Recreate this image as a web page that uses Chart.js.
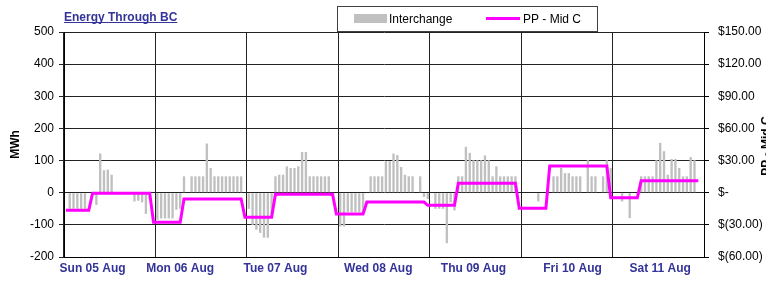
<!DOCTYPE html>
<html>
<head>
<meta charset="utf-8">
<script src="https://cdn.jsdelivr.net/npm/chart.js@4.4.1/dist/chart.umd.min.js"></script>
<style>
  body { margin: 0; background: #fff; }
  canvas { display: block; }
</style>
</head>
<body>
<canvas id="graphique" width="766" height="281"></canvas>
<script>
// day labels, and the hour of each day where the label sits on the axis
const days = ['Sun 05 Aug', 'Mon 06 Aug', 'Tue 07 Aug', 'Wed 08 Aug', 'Thu 09 Aug', 'Fri 10 Aug', 'Sat 11 Aug'];
const labelHour = [7, 6, 7, 10, 11, 13, 12];

// hourly interchange (MWh), 24 values per day
const sunMWh = [0, -50, -50, -50, -50, -50, 0, 0, -38, 122, 70, 72, 56, 0, 0, 0, 0, 0, -27, -25, -30, -66, -22, 0];
const monMWh = [-84, -80, -80, -80, -80, -53, -50, 51, 0, 51, 51, 51, 51, 153, 77, 51, 51, 51, 51, 51, 51, 51, 51, 0];
const tueMWh = [-50, -100, -115, -125, -140, -140, -70, 51, 56, 56, 82, 77, 77, 82, 127, 127, 51, 51, 51, 51, 51, 51, 0, 0];
const wedMWh = [-105, -105, -60, -60, -60, -60, -60, 0, 51, 51, 51, 51, 98, 98, 122, 117, 80, 56, 51, 51, 0, 51, -13, -20];
const thuMWh = [0, -50, -50, -50, -157, -30, -55, 51, 51, 143, 124, 101, 101, 101, 116, 101, 51, 82, 51, 51, 51, 51, 51, 0];
const friMWh = [0, 0, 0, 0, -27, 0, 0, 0, 51, 51, 77, 61, 61, 51, 51, 51, 0, 101, 51, 51, 0, 51, 101, 77];
const satMWh = [0, 0, -27, 0, -79, 0, 0, 51, 51, 51, 51, 101, 155, 129, 56, 105, 105, 77, 51, 51, 111, 101, 0, 0];

// hourly PP - Mid C spread ($), 24 values per day
const sunPrice = [-16.4, -16.4, -16.4, -16.4, -16.4, -16.4, -16.4, -0.4, -0.4, -0.4, -0.4, -0.4, -0.4, -0.4, -0.4, -0.4, -0.4, -0.4, -0.4, -0.4, -0.4, -0.4, -0.4, -27.6];
const monPrice = [-27.6, -27.6, -27.6, -27.6, -27.6, -27.6, -27.6, -5.9, -5.9, -5.9, -5.9, -5.9, -5.9, -5.9, -5.9, -5.9, -5.9, -5.9, -5.9, -5.9, -5.9, -5.9, -5.9, -23.0];
const tuePrice = [-23.0, -23.0, -23.0, -23.0, -23.0, -23.0, -23.0, -1.5, -1.5, -1.5, -1.5, -1.5, -1.5, -1.5, -1.5, -1.5, -1.5, -1.5, -1.5, -1.5, -1.5, -1.5, -1.5, -19.9];
const wedPrice = [-19.9, -19.9, -19.9, -19.9, -19.9, -19.9, -19.9, -8.7, -8.7, -8.7, -8.7, -8.7, -8.7, -8.7, -8.7, -8.7, -8.7, -8.7, -8.7, -8.7, -8.7, -8.7, -8.7, -11.8];
const thuPrice = [-11.8, -11.8, -11.8, -11.8, -11.8, -11.8, -11.8, 8.8, 8.8, 8.8, 8.8, 8.8, 8.8, 8.8, 8.8, 8.8, 8.8, 8.8, 8.8, 8.8, 8.8, 8.8, 8.8, -14.6];
const friPrice = [-14.6, -14.6, -14.6, -14.6, -14.6, -14.6, -14.6, 24.9, 24.9, 24.9, 24.9, 24.9, 24.9, 24.9, 24.9, 24.9, 24.9, 24.9, 24.9, 24.9, 24.9, 24.9, 24.9, -4.7];
const satPrice = [-4.7, -4.7, -4.7, -4.7, -4.7, -4.7, -4.7, 11.2, 11.2, 11.2, 11.2, 11.2, 11.2, 11.2, 11.2, 11.2, 11.2, 11.2, 11.2, 11.2, 11.2, 11.2, 11.2, null];

const interchange = [].concat(sunMWh, monMWh, tueMWh, wedMWh, thuMWh, friMWh, satMWh);
const ppMidC = [].concat(sunPrice, monPrice, tuePrice, wedPrice, thuPrice, friPrice, satPrice);
const hours = interchange.map((v, i) => days[Math.floor(i / 24)] + ' ' + (i % 24));

const BLUE = '#333399';
const FONT = '"Liberation Sans", Arial, sans-serif';
Chart.defaults.font.family = FONT;
Chart.defaults.font.size = 12;
Chart.defaults.color = '#000';

// title, boxed legend and the right axis title (drawn bottom-to-top like Excel)
const extras = {
    id: 'extras',
    afterDraw(chart) {
        const ctx = chart.ctx;
        ctx.save();
        ctx.font = 'bold 12px ' + FONT;
        ctx.fillStyle = BLUE;
        ctx.textBaseline = 'alphabetic';
        ctx.fillText('Energy Through BC', 64, 20.5);
        const w = ctx.measureText('Energy Through BC').width;
        ctx.fillRect(64, 22, w, 1);

        // legend box
        ctx.fillStyle = '#fff';
        ctx.fillRect(337.5, 6.5, 260, 25);
        ctx.strokeStyle = '#404040';
        ctx.lineWidth = 1;
        ctx.strokeRect(337.5, 6.5, 260, 25);
        ctx.fillStyle = '#c0c0c0';
        ctx.fillRect(354, 14, 33, 9);
        ctx.strokeStyle = '#ff00ff';
        ctx.lineWidth = 3;
        ctx.beginPath();
        ctx.moveTo(486, 18.5);
        ctx.lineTo(520, 18.5);
        ctx.stroke();
        ctx.fillStyle = '#000';
        ctx.font = '12px ' + FONT;
        ctx.fillText('Interchange', 389, 22.7);
        ctx.fillText('PP - Mid C', 523, 22.7);

        // right axis title, cut by the canvas edge as in the original
        ctx.translate(767, 146);
        ctx.rotate(-Math.PI / 2);
        ctx.font = 'bold 12px ' + FONT;
        ctx.textAlign = 'center';
        ctx.textBaseline = 'middle';
        ctx.fillText('PP - Mid C', 0, 0);
        ctx.restore();
    }
};

const fmtDollar = v => {
    if (v === 0) return '$-';
    if (v < 0) return '$(' + Math.abs(v).toFixed(2) + ')';
    return '$' + v.toFixed(2);
};

new Chart(document.getElementById('graphique').getContext('2d'), {
    data: {
        labels: hours,
        datasets: [{
            type: 'line',
            label: 'PP - Mid C',
            data: ppMidC,
            yAxisID: 'y1',
            borderColor: '#ff00ff',
            borderWidth: 3,
            pointRadius: 0,
            tension: 0,
            order: 0
        }, {
            type: 'bar',
            label: 'Interchange',
            data: interchange,
            yAxisID: 'y',
            backgroundColor: '#c0c0c0',
            barPercentage: 0.62,
            categoryPercentage: 1,
            order: 1
        }]
    },
    options: {
        responsive: false,
        animation: false,
        events: [],
        layout: { padding: { top: 32, left: 0, right: 0, bottom: 0 } },
        plugins: {
            legend: { display: false },
            tooltip: { enabled: false }
        },
        scales: {
            x: {
                offset: true,
                grid: {
                    offset: true,
                    drawTicks: false,
                    color: c => (c.index % 24 === 0 ? '#222' : 'rgba(0,0,0,0)')
                },
                border: { color: '#000' },
                ticks: {
                    autoSkip: false,
                    maxRotation: 0,
                    padding: 4,
                    color: BLUE,
                    font: { weight: 'bold', size: 12 },
                    callback: (v, i) => (i % 24 === labelHour[Math.floor(i / 24)] ? days[Math.floor(i / 24)] : '')
                },
                afterFit: s => { s.height = 24; }
            },
            y: {
                position: 'left',
                min: -200,
                max: 500,
                ticks: { stepSize: 100, padding: 5, color: '#000' },
                grid: { color: '#222', tickLength: 5 },
                border: { color: '#000' },
                title: {
                    display: true,
                    text: 'MWh',
                    font: { weight: 'bold', size: 12 },
                    padding: { top: 8, bottom: 0 }
                },
                afterFit: s => { s.width = 64; }
            },
            y1: {
                position: 'right',
                min: -60,
                max: 150,
                ticks: { stepSize: 30, padding: 9, color: '#000', callback: fmtDollar },
                grid: { drawOnChartArea: false, color: '#000', tickLength: 5 },
                border: { color: '#000' },
                afterFit: s => { s.width = 62; }
            }
        }
    },
    plugins: [extras]
});
</script>
</body>
</html>
